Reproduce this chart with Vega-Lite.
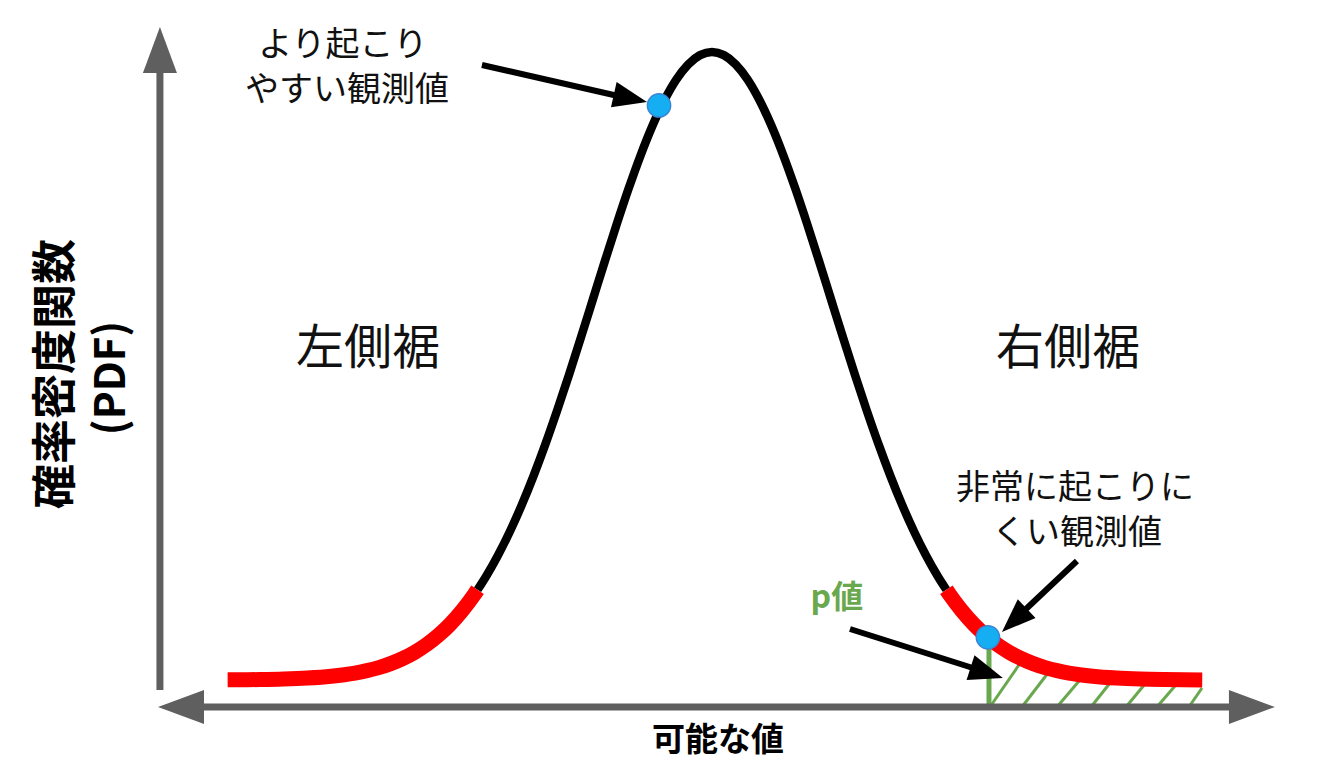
{
  "$schema": "https://vega.github.io/schema/vega-lite/v6.json",
  "width": 1343,
  "height": 784,
  "autosize": {"type": "none"},
  "padding": 0,
  "background": "white",
  "config": {"view": {"stroke": null}},
  "datasets": {
    "curve": [
      {"z": -4.07, "h": 0.0003, "part": "left"},
      {"z": -3.8, "h": 0.0007, "part": "left"},
      {"z": -3.6, "h": 0.0015, "part": "left"},
      {"z": -3.4, "h": 0.0031, "part": "left"},
      {"z": -3.2, "h": 0.006, "part": "left"},
      {"z": -3.0, "h": 0.0111, "part": "left"},
      {"z": -2.9, "h": 0.0149, "part": "left"},
      {"z": -2.8, "h": 0.0198, "part": "left"},
      {"z": -2.7, "h": 0.0261, "part": "left"},
      {"z": -2.6, "h": 0.034, "part": "left"},
      {"z": -2.5, "h": 0.0439, "part": "left"},
      {"z": -2.4, "h": 0.0561, "part": "left"},
      {"z": -2.3, "h": 0.071, "part": "left"},
      {"z": -2.2, "h": 0.0889, "part": "left"},
      {"z": -2.1, "h": 0.1103, "part": "left"},
      {"z": -2.0, "h": 0.1353, "part": "left"},
      {"z": -1.97, "h": 0.1437, "part": "left"},
      {"z": -1.97, "h": 0.1437, "part": "center"},
      {"z": -1.9, "h": 0.1645, "part": "center"},
      {"z": -1.8, "h": 0.1979, "part": "center"},
      {"z": -1.7, "h": 0.2357, "part": "center"},
      {"z": -1.6, "h": 0.278, "part": "center"},
      {"z": -1.5, "h": 0.3247, "part": "center"},
      {"z": -1.4, "h": 0.3753, "part": "center"},
      {"z": -1.3, "h": 0.4296, "part": "center"},
      {"z": -1.2, "h": 0.4868, "part": "center"},
      {"z": -1.1, "h": 0.5461, "part": "center"},
      {"z": -1.0, "h": 0.6065, "part": "center"},
      {"z": -0.9, "h": 0.667, "part": "center"},
      {"z": -0.8, "h": 0.7261, "part": "center"},
      {"z": -0.7, "h": 0.7827, "part": "center"},
      {"z": -0.6, "h": 0.8353, "part": "center"},
      {"z": -0.5, "h": 0.8825, "part": "center"},
      {"z": -0.4, "h": 0.9231, "part": "center"},
      {"z": -0.3, "h": 0.956, "part": "center"},
      {"z": -0.2, "h": 0.9802, "part": "center"},
      {"z": -0.1, "h": 0.995, "part": "center"},
      {"z": 0.0, "h": 1.0, "part": "center"},
      {"z": 0.1, "h": 0.995, "part": "center"},
      {"z": 0.2, "h": 0.9802, "part": "center"},
      {"z": 0.3, "h": 0.956, "part": "center"},
      {"z": 0.4, "h": 0.9231, "part": "center"},
      {"z": 0.5, "h": 0.8825, "part": "center"},
      {"z": 0.6, "h": 0.8353, "part": "center"},
      {"z": 0.7, "h": 0.7827, "part": "center"},
      {"z": 0.8, "h": 0.7261, "part": "center"},
      {"z": 0.9, "h": 0.667, "part": "center"},
      {"z": 1.0, "h": 0.6065, "part": "center"},
      {"z": 1.1, "h": 0.5461, "part": "center"},
      {"z": 1.2, "h": 0.4868, "part": "center"},
      {"z": 1.3, "h": 0.4296, "part": "center"},
      {"z": 1.4, "h": 0.3753, "part": "center"},
      {"z": 1.5, "h": 0.3247, "part": "center"},
      {"z": 1.6, "h": 0.278, "part": "center"},
      {"z": 1.7, "h": 0.2357, "part": "center"},
      {"z": 1.8, "h": 0.1979, "part": "center"},
      {"z": 1.9, "h": 0.1645, "part": "center"},
      {"z": 1.97, "h": 0.1437, "part": "center"},
      {"z": 1.97, "h": 0.1437, "part": "right"},
      {"z": 2.0, "h": 0.1353, "part": "right"},
      {"z": 2.1, "h": 0.1103, "part": "right"},
      {"z": 2.2, "h": 0.0889, "part": "right"},
      {"z": 2.3, "h": 0.071, "part": "right"},
      {"z": 2.4, "h": 0.0561, "part": "right"},
      {"z": 2.5, "h": 0.0439, "part": "right"},
      {"z": 2.6, "h": 0.034, "part": "right"},
      {"z": 2.7, "h": 0.0261, "part": "right"},
      {"z": 2.8, "h": 0.0198, "part": "right"},
      {"z": 2.9, "h": 0.0149, "part": "right"},
      {"z": 3.0, "h": 0.0111, "part": "right"},
      {"z": 3.2, "h": 0.006, "part": "right"},
      {"z": 3.4, "h": 0.0031, "part": "right"},
      {"z": 3.6, "h": 0.0015, "part": "right"},
      {"z": 3.8, "h": 0.0007, "part": "right"},
      {"z": 4.12, "h": 0.0002, "part": "right"}
    ],
    "hatch": [
      {"z": 2.336, "h": -0.043, "z2": 2.597, "h2": 0.0287},
      {"z": 2.605, "h": -0.043, "z2": 2.824, "h2": 0.0111},
      {"z": 2.899, "h": -0.043, "z2": 3.092, "h2": 0.0},
      {"z": 3.185, "h": -0.043, "z2": 3.345, "h2": -0.0048},
      {"z": 3.479, "h": -0.043, "z2": 3.639, "h2": -0.0064},
      {"z": 3.739, "h": -0.043, "z2": 3.891, "h2": -0.0096},
      {"z": 4.008, "h": -0.043, "z2": 4.118, "h2": -0.0127}
    ],
    "pline": [
      {"z": 2.328, "h": 0.068, "z2": 2.328, "h2": -0.043}
    ],
    "axisShafts": [
      {"z": -4.639, "h": -0.0159, "z2": -4.639, "h2": 0.975},
      {"z": -4.27, "h": -0.043, "z2": 4.36, "h2": -0.043}
    ],
    "axisUp": [{"z": -4.639, "h": 1.0398}],
    "axisLeft": [{"z": -4.655, "h": -0.043}],
    "axisRight": [{"z": 4.731, "h": -0.043}],
    "dots": [
      {"z": -0.445, "h": 0.915},
      {"z": 2.319, "h": 0.068}
    ],
    "shafts": [
      {"z": -1.933, "h": 0.9793, "z2": -0.807, "h2": 0.9307},
      {"z": 3.067, "h": 0.1895, "z2": 2.63, "h2": 0.1115},
      {"z": 1.16, "h": 0.0812, "z2": 2.193, "h2": 0.0191}
    ],
    "head1": [{"z": -0.546, "h": 0.9204}],
    "head2": [{"z": 2.437, "h": 0.0764}],
    "head3": [{"z": 2.445, "h": 0.0032}],
    "notes": [
      {"label": "より起こり", "z": -3.101, "h": 1.0096},
      {"label": "やすい観測値", "z": -3.067, "h": 0.9379},
      {"label": "非常に起こりに", "z": 3.05, "h": 0.3041},
      {"label": "くい観測値", "z": 3.067, "h": 0.2325}
    ],
    "tails": [
      {"label": "左側裾", "z": -2.891, "h": 0.5255},
      {"label": "右側裾", "z": 2.992, "h": 0.5255}
    ],
    "pvalue": [{"label": "p値", "z": 1.05, "h": 0.1306}],
    "xtitle": [{"label": "可能な値", "z": 0.05, "h": -0.0971}],
    "ytitle1": [{"label": "確率密度関数", "z": -5.504, "h": 0.4873}],
    "ytitle2": [{"label": "(PDF)", "z": -5.042, "h": 0.4809}]
  },
  "encoding": {
    "x": {"field": "z", "type": "quantitative", "scale": {"domain": [-5.983, 5.303], "nice": false, "zero": false}, "axis": null},
    "y": {"field": "h", "type": "quantitative", "scale": {"domain": [-0.1656, 1.0828], "nice": false, "zero": false}, "axis": null}
  },
  "layer": [
    {
      "data": {"name": "hatch"},
      "mark": {"type": "rule", "color": "#6AA84F", "strokeWidth": 3},
      "encoding": {"x2": {"field": "z2"}, "y2": {"field": "h2"}}
    },
    {
      "data": {"name": "pline"},
      "mark": {"type": "rule", "color": "#6AA84F", "strokeWidth": 5},
      "encoding": {"x2": {"field": "z2"}, "y2": {"field": "h2"}}
    },
    {
      "data": {"name": "axisShafts"},
      "mark": {"type": "rule", "color": "#5F5F5F", "strokeWidth": 7},
      "encoding": {"x2": {"field": "z2"}, "y2": {"field": "h2"}}
    },
    {
      "data": {"name": "axisUp"},
      "mark": {"type": "point", "shape": "M0,0L0.37,1L-0.37,1Z", "filled": true, "color": "#5F5F5F", "opacity": 1, "size": 8464, "angle": 0, "strokeWidth": 0}
    },
    {
      "data": {"name": "axisLeft"},
      "mark": {"type": "point", "shape": "M0,0L0.37,1L-0.37,1Z", "filled": true, "color": "#5F5F5F", "opacity": 1, "size": 8464, "angle": 270, "strokeWidth": 0}
    },
    {
      "data": {"name": "axisRight"},
      "mark": {"type": "point", "shape": "M0,0L0.37,1L-0.37,1Z", "filled": true, "color": "#5F5F5F", "opacity": 1, "size": 8464, "angle": 90, "strokeWidth": 0}
    },
    {
      "data": {"name": "curve"},
      "transform": [{"filter": "datum.part === 'center'"}],
      "mark": {"type": "line", "color": "#000000", "strokeWidth": 8.5, "interpolate": "monotone", "strokeCap": "butt"},
      "encoding": {}
    },
    {
      "data": {"name": "curve"},
      "transform": [{"filter": "datum.part !== 'center'"}],
      "mark": {"type": "line", "color": "#FF0000", "strokeWidth": 15, "interpolate": "monotone", "strokeCap": "butt"},
      "encoding": {"detail": {"field": "part"}}
    },
    {
      "data": {"name": "dots"},
      "mark": {"type": "circle", "color": "#16AEF3", "opacity": 1, "size": 540, "stroke": "#3C84D4", "strokeWidth": 1.5}
    },
    {
      "data": {"name": "shafts"},
      "mark": {"type": "rule", "color": "#000000", "strokeWidth": 6},
      "encoding": {"x2": {"field": "z2"}, "y2": {"field": "h2"}}
    },
    {
      "data": {"name": "head1"},
      "mark": {"type": "point", "shape": "M0,0L0.38,1L-0.38,1Z", "filled": true, "color": "#000000", "opacity": 1, "size": 4624, "angle": 102.6, "strokeWidth": 0}
    },
    {
      "data": {"name": "head2"},
      "mark": {"type": "point", "shape": "M0,0L0.38,1L-0.38,1Z", "filled": true, "color": "#000000", "opacity": 1, "size": 4624, "angle": 226.6, "strokeWidth": 0}
    },
    {
      "data": {"name": "head3"},
      "mark": {"type": "point", "shape": "M0,0L0.38,1L-0.38,1Z", "filled": true, "color": "#000000", "opacity": 1, "size": 4624, "angle": 107.8, "strokeWidth": 0}
    },
    {
      "data": {"name": "notes"},
      "mark": {"type": "text", "font": "Noto Sans CJK JP", "fontSize": 34, "color": "#111111", "align": "center", "baseline": "middle"},
      "encoding": {"text": {"field": "label"}}
    },
    {
      "data": {"name": "tails"},
      "mark": {"type": "text", "font": "Noto Sans CJK JP", "fontSize": 48, "color": "#111111", "align": "center", "baseline": "middle"},
      "encoding": {"text": {"field": "label"}}
    },
    {
      "data": {"name": "pvalue"},
      "mark": {"type": "text", "font": "Noto Sans CJK JP", "fontSize": 32, "fontWeight": "bold", "color": "#6AA84F", "align": "center", "baseline": "middle"},
      "encoding": {"text": {"field": "label"}}
    },
    {
      "data": {"name": "xtitle"},
      "mark": {"type": "text", "font": "Noto Sans CJK JP", "fontSize": 33, "fontWeight": "bold", "color": "#000000", "align": "center", "baseline": "middle"},
      "encoding": {"text": {"field": "label"}}
    },
    {
      "data": {"name": "ytitle1"},
      "mark": {"type": "text", "font": "Noto Sans CJK JP", "fontSize": 45, "fontWeight": "bold", "color": "#000000", "align": "center", "baseline": "middle", "angle": 270},
      "encoding": {"text": {"field": "label"}}
    },
    {
      "data": {"name": "ytitle2"},
      "mark": {"type": "text", "font": "Noto Sans CJK JP", "fontSize": 42, "fontWeight": "bold", "color": "#000000", "align": "center", "baseline": "middle", "angle": 270},
      "encoding": {"text": {"field": "label"}}
    }
  ]
}
